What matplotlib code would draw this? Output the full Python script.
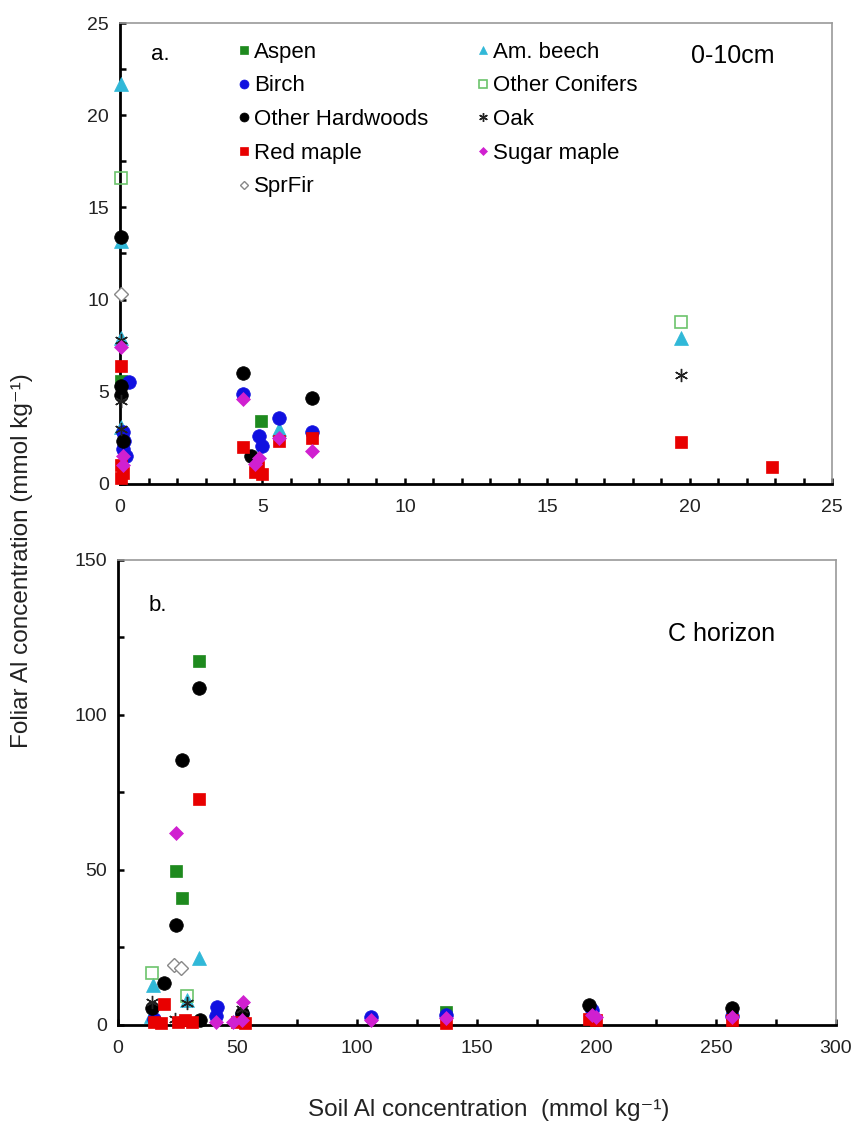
import matplotlib
matplotlib.use("Agg")
import matplotlib.pyplot as plt
from matplotlib.ticker import MultipleLocator

plt.rcParams['font.family'] = ['Liberation Sans', 'DejaVu Sans']

species = ["Aspen", "Am. beech", "Birch", "Other Conifers", "Other Hardwoods",
           "Oak", "Red maple", "Sugar maple", "SprFir"]

# ---- Panel a: 0-10cm (soil Al, foliar Al) ----
a_aspen_x = [4.95, 0.05]
a_aspen_y = [3.42, 5.6]
a_beech_x = [0.05, 0.05, 0.05, 0.05, 19.7, 5.59]
a_beech_y = [21.7, 13.2, 7.9, 3.1, 7.9, 2.97]
a_birch_x = [0.3, 0.1, 0.15, 0.1, 0.2, 4.31, 4.87, 4.99, 5.59, 6.74]
a_birch_y = [5.5, 2.8, 2.3, 1.9, 1.5, 4.86, 2.58, 2.07, 3.55, 2.79]
a_conif_x = [0.05, 19.7]
a_conif_y = [16.6, 8.8]
a_hard_x = [0.05, 0.05, 0.05, 4.33, 4.6, 6.74, 0.1]
a_hard_y = [13.4, 5.3, 4.8, 6.03, 1.53, 4.64, 2.3]
a_oak_x = [0.05, 0.05, 0.05, 19.7]
a_oak_y = [7.8, 4.5, 3.0, 5.9]
a_red_x = [0.05, 0.05, 0.1, 0.05, 4.33, 4.75, 4.99, 4.85, 5.59, 6.74, 19.7, 22.87]
a_red_y = [6.4, 1.0, 0.6, 0.3, 2.0, 0.65, 0.56, 0.9, 2.3, 2.47, 2.25, 0.9]
a_sugar_x = [0.05, 0.1, 0.1, 4.31, 4.87, 4.75, 5.59, 6.74]
a_sugar_y = [7.4, 1.5, 1.0, 4.6, 1.4, 1.1, 2.48, 1.8]
a_spr_x = [0.05]
a_spr_y = [10.3]

# ---- Panel b: C horizon ----
b_aspen_x = [34.1, 24.3, 26.7, 137.1]
b_aspen_y = [117.3, 49.6, 40.8, 4.3]
b_beech_x = [34.1, 14.8, 29.0, 14.0]
b_beech_y = [21.5, 12.9, 8.0, 3.0]
b_birch_x = [41.3, 41.0, 52.0, 106.0, 137.0, 198.0, 256.5, 15.0]
b_birch_y = [5.9, 3.0, 3.5, 2.5, 3.2, 4.8, 3.0, 2.0]
b_conif_x = [14.4, 29.0]
b_conif_y = [16.6, 9.4]
b_hard_x = [34.1, 26.7, 24.3, 19.3, 14.4, 34.3, 197.0, 256.5, 52.0]
b_hard_y = [108.7, 85.4, 32.2, 13.4, 5.6, 1.5, 6.4, 5.4, 4.0]
b_oak_x = [14.2, 29.0, 24.0, 52.0]
b_oak_y = [7.5, 7.0, 2.0, 5.0]
b_red_x = [34.1, 19.3, 15.0, 18.0, 25.0, 28.0, 31.0, 197.0, 200.0, 137.0, 256.5, 50.0, 53.0]
b_red_y = [72.7, 6.8, 1.0, 0.8, 1.0, 1.5, 1.0, 2.0, 1.5, 0.8, 1.5, 1.0, 0.8]
b_sugar_x = [24.3, 52.2, 41.0, 48.0, 52.0, 106.0, 137.0, 198.0, 200.0, 256.5]
b_sugar_y = [61.8, 7.5, 1.0, 1.0, 1.5, 1.5, 2.1, 3.2, 2.5, 2.7]
b_spr_x = [23.5, 26.4]
b_spr_y = [19.3, 18.5]

panel_a = [(a_aspen_x, a_aspen_y), (a_beech_x, a_beech_y), (a_birch_x, a_birch_y),
           (a_conif_x, a_conif_y), (a_hard_x, a_hard_y), (a_oak_x, a_oak_y),
           (a_red_x, a_red_y), (a_sugar_x, a_sugar_y), (a_spr_x, a_spr_y)]
panel_b = [(b_aspen_x, b_aspen_y), (b_beech_x, b_beech_y), (b_birch_x, b_birch_y),
           (b_conif_x, b_conif_y), (b_hard_x, b_hard_y), (b_oak_x, b_oak_y),
           (b_red_x, b_red_y), (b_sugar_x, b_sugar_y), (b_spr_x, b_spr_y)]

styles = {
    "Aspen": dict(marker='s', ms=9.2, mfc='#1e8a1e', mec='#1e8a1e', mew=0.5),
    "Am. beech": dict(marker='^', ms=9.8, mfc='#30b8d8', mec='#30b8d8', mew=0.5),
    "Birch": dict(marker='o', ms=9.8, mfc='#1010e0', mec='#1010e0', mew=0.5),
    "Other Conifers": dict(marker='s', ms=9.2, mfc='none', mec='#6cc46c', mew=1.2),
    "Other Hardwoods": dict(marker='o', ms=9.8, mfc='black', mec='black', mew=0.5),
    "Oak": dict(marker=(6, 2, 0), ms=9.5, mfc='#222222', mec='#222222', mew=1.0),
    "Red maple": dict(marker='s', ms=9.2, mfc='#e80000', mec='#e80000', mew=0.5),
    "Sugar maple": dict(marker='D', ms=6.8, mfc='#d020d0', mec='#d020d0', mew=0.5),
    "SprFir": dict(marker='D', ms=6.8, mfc='white', mec='#888888', mew=1.0),
}

fig = plt.figure(figsize=(8.58, 11.39), dpi=100)
ax1 = fig.add_axes([0.1399, 0.5752, 0.8301, 0.4046])
ax2 = fig.add_axes([0.1373, 0.1001, 0.8367, 0.4085])

for ax, data in ((ax1, panel_a), (ax2, panel_b)):
    for name, (xs, ys) in zip(species, data):
        ax.plot(xs, ys, linestyle='none', label=name, clip_on=False, zorder=3,
                **styles[name])

def style_axes(ax, xmax, xmaj, xmin, ymax, ymaj, ymin):
    ax.set_xlim(0, xmax)
    ax.set_ylim(0, ymax)
    ax.xaxis.set_major_locator(MultipleLocator(xmaj))
    ax.xaxis.set_minor_locator(MultipleLocator(xmin))
    ax.yaxis.set_major_locator(MultipleLocator(ymaj))
    ax.yaxis.set_minor_locator(MultipleLocator(ymin))
    for s in ('left', 'bottom'):
        ax.spines[s].set_linewidth(2.0)
        ax.spines[s].set_color('black')
    for s in ('top', 'right'):
        ax.spines[s].set_linewidth(1.2)
        ax.spines[s].set_color('#9a9a9a')
    ax.tick_params(which='both', direction='in', top=False, right=False,
                   width=1.8, color='black', labelsize=14)
    ax.tick_params(axis='x', pad=11)
    ax.tick_params(axis='y', pad=8)
    ax.tick_params(which='major', length=4)
    ax.tick_params(which='minor', length=4)
    for lab in ax.get_xticklabels() + ax.get_yticklabels():
        lab.set_color('#222222')

style_axes(ax1, 25, 5, 1, 25, 5, 2.5)
style_axes(ax2, 300, 50, 25, 150, 50, 25)

ax1.text(0.043, 0.955, "a.", transform=ax1.transAxes, fontsize=16, va='top', ha='left')
ax1.text(0.919, 0.955, "0-10cm", transform=ax1.transAxes, fontsize=18, va='top', ha='right')
ax2.text(0.043, 0.925, "b.", transform=ax2.transAxes, fontsize=16, va='top', ha='left')
ax2.text(0.915, 0.866, "C horizon", transform=ax2.transAxes, fontsize=18, va='top', ha='right')

order = ["Aspen", "Birch", "Other Hardwoods", "Red maple", "SprFir",
         "Am. beech", "Other Conifers", "Oak", "Sugar maple"]
leg_handles = []
for n in order:
    st = dict(styles[n])
    st['ms'] = st['ms'] * 0.66
    h, = ax1.plot([], [], linestyle='none', **st)
    leg_handles.append(h)
leg = ax1.legend(leg_handles, order, ncol=2, loc='upper left',
                 bbox_to_anchor=(0.140, 0.998), frameon=False, fontsize=16,
                 handlelength=0.6, handletextpad=0.15, labelspacing=0.57,
                 columnspacing=2.16, borderpad=0.3)

fig.text(0.026, 0.508, "Foliar Al concentration (mmol kg\u207b\u00b9)", rotation=90,
         fontsize=17.5, ha='center', va='center', color='#222222')
fig.text(0.569, 0.0255, "Soil Al concentration  (mmol kg\u207b\u00b9)",
         fontsize=17.5, ha='center', va='center', color='#222222')

fig.savefig("out.png", dpi=100)
